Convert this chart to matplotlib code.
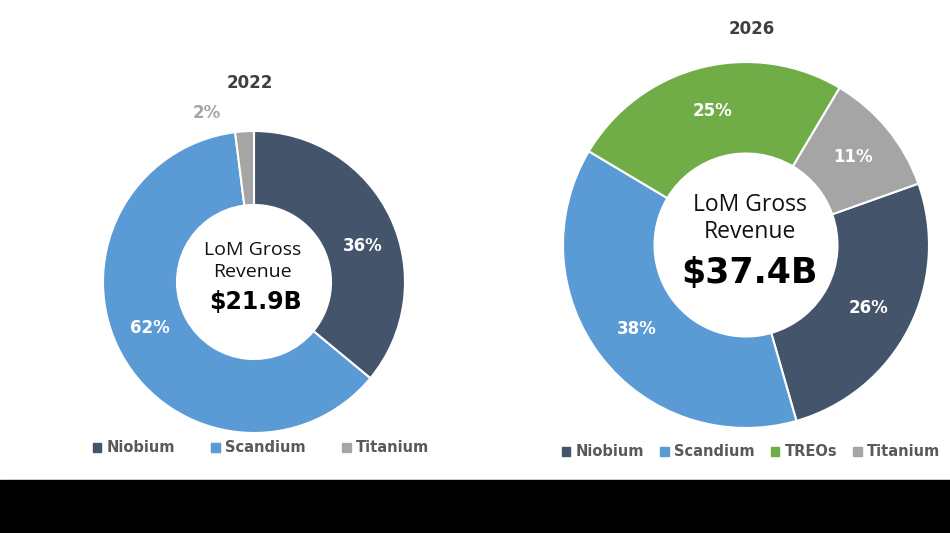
import matplotlib
matplotlib.use("Agg")
import matplotlib.pyplot as plt
import numpy as np
from matplotlib.patches import Patch, Rectangle

# --- data
left_year = "2022"
left_names = ["Niobium", "Scandium", "Titanium"]
left_share = [36, 62, 2]
left_total = "$21.9B"

right_year = "2026"
right_names = ["Niobium", "Scandium", "TREOs", "Titanium"]
right_share = [26, 38, 25, 11]
right_total = "$37.4B"

COLORS = {"Niobium": "#44546A", "Scandium": "#5B9BD5",
          "TREOs": "#70AD47", "Titanium": "#A5A5A5"}

W, H = 950, 533
BOLD = ["Liberation Sans Narrow", "DejaVu Sans"]
LIGHT = ["Open Sans", "DejaVu Sans"]

fig = plt.figure(figsize=(W / 100, H / 100), dpi=100)
fig.patches.append(Rectangle((0, 0), 1, 53 / H, transform=fig.transFigure,
                             color="black", zorder=0))


def donut_axes(cx, cy, r):
    # cx, cy in pixels from the top-left corner
    ax = fig.add_axes([(cx - r) / W, (H - cy - r) / H, 2 * r / W, 2 * r / H])
    ax.set_xlim(-1, 1); ax.set_ylim(-1, 1)
    ax.axis("off")
    return ax


def donut(ax, names, share, start, hole):
    wedges, _ = ax.pie(share, colors=[COLORS[n] for n in names], startangle=start,
                       counterclock=False, radius=1,
                       wedgeprops=dict(width=1 - hole, edgecolor="white", linewidth=1.5))
    ax.set_xlim(-1, 1); ax.set_ylim(-1, 1)
    return wedges


def labels(ax, wedges, share, small=(), shift=None):
    rmid = 0.755
    shift = shift or {}
    for w, s in zip(wedges, share):
        if s in small:
            continue
        ang = np.deg2rad((w.theta1 + w.theta2) / 2 + shift.get(s, 0))
        ax.text(rmid * np.cos(ang), rmid * np.sin(ang), f"{s}%", ha="center", va="center",
                color="white", fontsize=12, fontweight="bold", family=BOLD)


# --- left: 2022
axl = donut_axes(254, 282, 151)
wl = donut(axl, left_names, left_share, 90, 0.51)
labels(axl, wl, left_share, small=(2,), shift={36: -7, 62: -5})
ang = np.deg2rad(105.5)
axl.text(1.16 * np.cos(ang), 1.16 * np.sin(ang), f"{left_share[2]}%", ha="center", va="center",
         color="#A5A5A5", fontsize=12, fontweight="bold", family=BOLD)
axl.text(-0.03, 1.32, left_year, ha="center", va="center", color="#3F3F3F",
         fontsize=12, fontweight="bold", family=BOLD)
axl.text(-0.01, 0.21, "LoM Gross", ha="center", va="center", fontsize=14, family=LIGHT, color="#111111")
axl.text(-0.01, 0.065, "Revenue", ha="center", va="center", fontsize=14, family=LIGHT, color="#111111")
axl.text(0.01, -0.135, left_total, ha="center", va="center", fontsize=17,
         fontweight="bold", family=BOLD, color="black")

# --- right: 2026
axr = donut_axes(746, 245, 183)
wr = donut(axr, right_names, right_share, 19.6, 0.5)
labels(axr, wr, right_share)
axr.text(0.03, 1.18, right_year, ha="center", va="center", color="#3F3F3F",
         fontsize=12, fontweight="bold", family=BOLD)
axr.text(0.02, 0.22, "LoM Gross", ha="center", va="center", fontsize=16.5, family=LIGHT, color="#111111")
axr.text(0.02, 0.07, "Revenue", ha="center", va="center", fontsize=16.5, family=LIGHT, color="#111111")
axr.text(0.02, -0.155, right_total, ha="center", va="center", fontsize=25,
         fontweight="bold", family=BOLD, color="black")

# --- legends
def legend(names, x, y, colsp):
    handles = [Patch(color=COLORS[n], label=n) for n in names]
    leg = fig.legend(handles=handles, loc="center", bbox_to_anchor=(x / W, 1 - y / H),
                     ncol=len(names), frameon=False, handlelength=0.6, handleheight=0.6,
                     handletextpad=0.35, columnspacing=colsp,
                     prop=dict(family=BOLD, weight="bold", size=10.5))
    for t in leg.get_texts():
        t.set_color("#595959")


legend(left_names, 261, 448, 2.5)
legend(right_names, 751, 452, 1.1)

fig.savefig("out.png", dpi=100, facecolor="white")
